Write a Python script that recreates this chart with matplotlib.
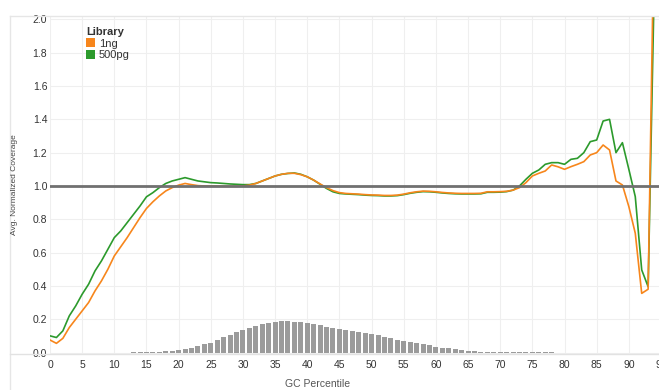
import matplotlib
matplotlib.use("Agg")
import matplotlib.pyplot as plt
from matplotlib.patches import Patch
from matplotlib.lines import Line2D

plt.rcParams['font.family'] = ['Liberation Sans', 'DejaVu Sans']

# GC percentile positions for the coverage curves
gc_x = list(range(0, 95))

cov_1ng = [
    0.075, 0.055, 0.085, 0.15, 0.20, 0.25, 0.30, 0.37, 0.43, 0.50,
    0.58, 0.635, 0.69, 0.75, 0.81, 0.865, 0.905, 0.94, 0.97, 0.99,
    1.005, 1.015, 1.008, 1.002, 1.0, 1.0, 0.999, 0.998, 0.998, 0.998,
    1.0, 1.005, 1.015, 1.03, 1.045, 1.06, 1.07, 1.076, 1.076, 1.068,
    1.055, 1.035, 1.012, 0.99, 0.972, 0.96, 0.955, 0.953, 0.951, 0.948,
    0.946, 0.945, 0.943, 0.943, 0.945, 0.951, 0.959, 0.965, 0.969, 0.968,
    0.965, 0.961, 0.958, 0.956, 0.955, 0.955, 0.955, 0.956, 0.965, 0.965,
    0.966, 0.968, 0.975, 0.99, 1.02, 1.06, 1.076, 1.09, 1.126, 1.115,
    1.10, 1.116, 1.13, 1.146, 1.186, 1.20, 1.246, 1.216, 1.03, 1.006,
    0.876, 0.716, 0.355, 0.38, 2.75,
]

cov_500pg = [
    0.10, 0.09, 0.13, 0.22, 0.28, 0.35, 0.41, 0.49, 0.55, 0.62,
    0.69, 0.73, 0.78, 0.83, 0.88, 0.935, 0.96, 0.99, 1.015, 1.03,
    1.04, 1.05, 1.04, 1.03, 1.025, 1.02, 1.018, 1.015, 1.012, 1.01,
    1.008, 1.008, 1.015, 1.03, 1.045, 1.06, 1.07, 1.075, 1.078, 1.07,
    1.055, 1.035, 1.01, 0.985, 0.965, 0.955, 0.952, 0.95, 0.948, 0.945,
    0.943, 0.942, 0.94, 0.94, 0.942, 0.948, 0.956, 0.962, 0.966, 0.965,
    0.962, 0.958, 0.955, 0.953, 0.952, 0.952, 0.952, 0.953, 0.962, 0.962,
    0.963, 0.966, 0.975, 1.0, 1.04, 1.076, 1.096, 1.13, 1.14, 1.14,
    1.13, 1.16, 1.166, 1.20, 1.266, 1.276, 1.39, 1.40, 1.20, 1.26,
    1.10, 0.936, 0.496, 0.395, 2.3,
]

# GC content distribution of the reference (histogram)
hist_x = list(range(13, 79))
hist_h = [
    0.001, 0.002, 0.002, 0.003, 0.005, 0.007, 0.010, 0.014, 0.020, 0.026,
    0.038, 0.050, 0.060, 0.076, 0.094, 0.106, 0.124, 0.138, 0.150, 0.162,
    0.170, 0.178, 0.182, 0.188, 0.188, 0.185, 0.182, 0.180, 0.170, 0.164,
    0.156, 0.146, 0.140, 0.134, 0.130, 0.124, 0.120, 0.114, 0.104, 0.094,
    0.086, 0.078, 0.072, 0.064, 0.060, 0.052, 0.044, 0.036, 0.030, 0.026,
    0.020, 0.016, 0.012, 0.008, 0.006, 0.005, 0.004, 0.003, 0.003, 0.002,
    0.002, 0.002, 0.002, 0.001, 0.001, 0.001,
]

x_ticks = list(range(0, 100, 5))
y_ticks = [0.0, 0.2, 0.4, 0.6, 0.8, 1.0, 1.2, 1.4, 1.6, 1.8, 2.0]
series_labels = ['1ng', '500pg']
series_colors = ['#f7861c', '#2c9a2c']

W, H = 659, 390
fig = plt.figure(figsize=(W / 100, H / 100), dpi=100)

left_px, right_px, top_px, bottom_px = 50, 661, 15.6, 354
ax = fig.add_axes([left_px / W, 1 - bottom_px / H,
                   (right_px - left_px) / W, (bottom_px - top_px) / H])

ax.bar(hist_x, hist_h, width=0.78, color='#9b9b9b', zorder=2)
ax.plot(gc_x, cov_500pg, color=series_colors[1], lw=1.2, zorder=3,
        solid_joinstyle='round')
ax.plot(gc_x, cov_1ng, color=series_colors[0], lw=1.2, zorder=4,
        solid_joinstyle='round')
ax.axhline(1.0, color='#707070', lw=2.0, zorder=5)

ax.set_xlim(0, 95)
ax.set_ylim(-0.009, 2.023)
ax.set_xticks(x_ticks)
ax.set_yticks(y_ticks)
ax.set_yticklabels([f'{v:.1f}' for v in y_ticks])
ax.grid(True, color='#efefef', lw=0.8, zorder=0)
ax.set_axisbelow(True)
for s in ax.spines.values():
    s.set_visible(False)
ax.tick_params(length=0, labelsize=7.5, labelcolor='#333333', pad=4)
ax.tick_params(axis='y', pad=2)

# outer chart frame and base line
frame_kw = dict(color='#e6e6e6', lw=1.0, transform=fig.transFigure)
fig.add_artist(Line2D([10 / W, 10 / W], [0, 1 - 15.6 / H], **frame_kw))
fig.add_artist(Line2D([10 / W, 1], [1 - 15.6 / H, 1 - 15.6 / H], **frame_kw))
fig.add_artist(Line2D([10 / W, 1], [1 - 354 / H, 1 - 354 / H],
                      color='#e2e2e2', lw=1.0, transform=fig.transFigure))

fig.text(15 / W, 1 - 185 / H, 'Avg. Normalized Coverage', rotation=90,
         ha='center', va='center', fontsize=6, color='#444444')
fig.text(318 / W, 1 - 384 / H, 'GC Percentile', ha='center', va='center',
         fontsize=7.5, color='#555555')

handles = [Patch(facecolor=c, edgecolor='none') for c in series_colors]
leg = ax.legend(handles, series_labels, title='Library', loc='upper left',
                bbox_to_anchor=(86 / W, 1 - 27 / H),
                bbox_transform=fig.transFigure, frameon=False,
                fontsize=8, title_fontsize=8, handlelength=0.85,
                handleheight=0.85, handletextpad=0.3, labelspacing=0.12,
                borderpad=0, borderaxespad=0, alignment='left')
leg.get_title().set_fontweight('bold')
leg.get_title().set_color('#333333')
for t in leg.get_texts():
    t.set_color('#333333')

fig.savefig('out.png', dpi=100)
